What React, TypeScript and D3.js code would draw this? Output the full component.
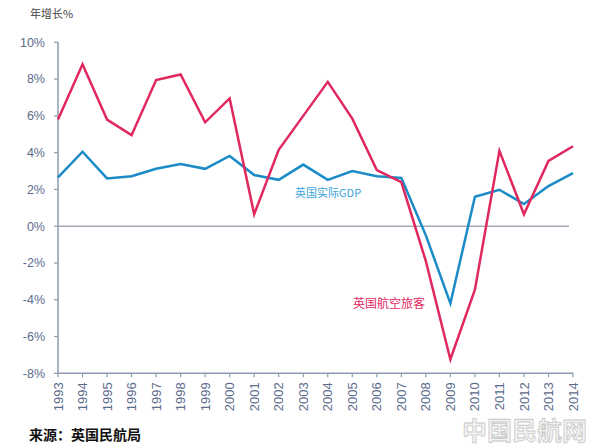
import React from "react";
import * as d3 from "d3";

const years = d3.range(1993, 2015);
const passengers = [5.8, 8.8, 5.8, 4.95, 7.95, 8.25, 5.65, 6.95, 0.65, 4.15, 6.0, 7.85, 5.85, 3.05, 2.4, -1.9, -7.25, -3.45, 4.1, 0.65, 3.55, 4.35];
const gdp = [2.65, 4.05, 2.6, 2.72, 3.12, 3.38, 3.12, 3.82, 2.78, 2.52, 3.35, 2.52, 3.0, 2.72, 2.62, -0.5, -4.2, 1.6, 1.98, 1.2, 2.18, 2.88];
const yTicks = [10, 8, 6, 4, 2, 0, -2, -4, -6, -8];

const W = 600;
const H = 446;
const M = { left: 58, right: 573, top: 42.3, bottom: 373.3 };

export default function App() {
  const x = d3.scaleLinear().domain([1993, 2014]).range([M.left, M.right]);
  const y = d3.scaleLinear().domain([-8, 10]).range([M.bottom, M.top]);
  const line = d3
    .line<number>()
    .x((_, i) => x(years[i]))
    .y((d) => y(d));
  const axisColor = "#8d9bb3";
  const labelColor = "#5b6b8c";
  const latin = "'Liberation Sans', 'Open Sans', sans-serif";
  const cjk = "'Noto Sans CJK SC', sans-serif";
  return (
    <svg
      width={W}
      height={H}
      style={{ position: "absolute", left: 0, top: 0, background: "#fff" }}
    >
      <text x={30} y={18} fontFamily={cjk} fontSize={11} fill="#444">
        年增长%
      </text>
      {/* zero line */}
      <line x1={M.left} x2={x(2014) - 4} y1={y(0)} y2={y(0)} stroke="#a3aab3" strokeWidth={1.5} />
      {/* y axis */}
      <line x1={M.left} x2={M.left} y1={M.top} y2={M.bottom} stroke={axisColor} strokeWidth={1.5} />
      {yTicks.map((t) => (
        <g key={t}>
          <line x1={M.left - 4} x2={M.left} y1={y(t)} y2={y(t)} stroke={axisColor} strokeWidth={1.2} />
          <text
            x={45}
            y={y(t)}
            dy="0.35em"
            textAnchor="end"
            fontFamily={latin}
            fontSize={12.5}
            fill={labelColor}
          >
            {`${t}%`}
          </text>
        </g>
      ))}
      {/* x axis */}
      <line x1={M.left} x2={M.right} y1={M.bottom} y2={M.bottom} stroke={axisColor} strokeWidth={1.5} />
      {years.map((yr) => (
        <g key={yr}>
          <line x1={x(yr)} x2={x(yr)} y1={M.bottom} y2={M.bottom + 4} stroke={axisColor} strokeWidth={1.2} />
          <text
            transform={`translate(${x(yr)},${M.bottom + 9}) rotate(-90)`}
            dy="0.35em"
            textAnchor="end"
            fontFamily={latin}
            fontSize={13}
            fill={labelColor}
          >
            {yr}
          </text>
        </g>
      ))}
      <path d={line(gdp) ?? ""} fill="none" stroke="#1a8bc7" strokeWidth={2.5} strokeLinejoin="miter" />
      <path d={line(passengers) ?? ""} fill="none" stroke="#e0285f" strokeWidth={2.5} strokeLinejoin="miter" />
      <text x={295} y={197} fontFamily={cjk} fontSize={11} fill="#3aa3db">
        英国实际GDP
      </text>
      <text x={353} y={308} fontFamily={cjk} fontSize={12} fill="#e0285f">
        英国航空旅客
      </text>
      <text x={29} y={440} fontFamily={cjk} fontSize={14} fontWeight="bold" fill="#111">
        来源：英国民航局
      </text>
      <text
        x={462}
        y={440}
        fontFamily={cjk}
        fontSize={25}
        fontWeight="bold"
        fill="#f2f2f2"
        stroke="#c8c8c8"
        strokeWidth={0.8}
      >
        中国民航网
      </text>
    </svg>
  );
}
